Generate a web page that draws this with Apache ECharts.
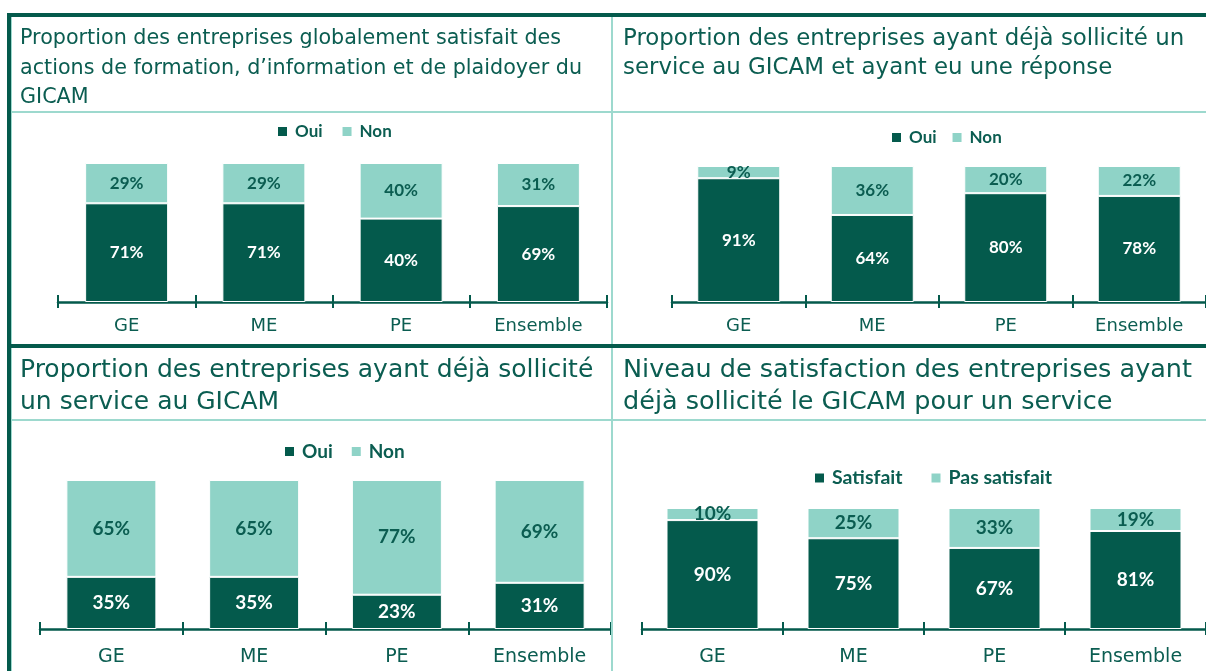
<!DOCTYPE html>
<html>
<head>
<meta charset="utf-8">
<script src="https://cdn.jsdelivr.net/npm/echarts@6/dist/echarts.min.js"></script>
<style>
  html, body { margin: 0; padding: 0; background: #fff; }
  #page { position: relative; width: 1206px; height: 671px; overflow: hidden; }
  .panel { position: absolute; overflow: hidden; }
  .line { position: absolute; }
  .dark { background: #045a4c; }
  .light { background: #9dd9ce; }
</style>
</head>
<body>
<div id="page">
  <div id="p1" class="panel" style="left:13px;top:17px;width:598px;height:327px"></div>
  <div id="p2" class="panel" style="left:613px;top:17px;width:593px;height:327px"></div>
  <div id="p3" class="panel" style="left:13px;top:348px;width:598px;height:323px"></div>
  <div id="p4" class="panel" style="left:613px;top:348px;width:593px;height:323px"></div>

  <!-- cadre -->
  <div class="line light" style="left:11px;top:111px;width:1195px;height:2px"></div>
  <div class="line light" style="left:11px;top:419px;width:1195px;height:2px"></div>
  <div class="line light" style="left:611px;top:17px;width:2px;height:654px"></div>
  <div class="line light" style="left:11px;top:17px;width:1px;height:654px"></div>
  <div class="line dark" style="left:7px;top:13px;width:1199px;height:4px"></div>
  <div class="line dark" style="left:7px;top:344px;width:1199px;height:4px"></div>
  <div class="line dark" style="left:7px;top:13px;width:4px;height:658px"></div>
</div>

<script>
const categories = ['GE', 'ME', 'PE', 'Ensemble']

// panneau 1 : satisfaction formation / information / plaidoyer
// (la barre PE fait ~60 % en hauteur mais l'etiquette affiche 40 %)
const p1Oui = [71, 71, 60, 69]
const p1OuiText = ['71%', '71%', '40%', '69%']
const p1Non = [29, 29, 40, 31]

// panneau 2 : service sollicite et reponse obtenue
const p2Oui = [91, 64, 80, 78]
const p2Non = [9, 36, 20, 22]

// panneau 3 : service deja sollicite
const p3Oui = [35, 35, 23, 31]
const p3Non = [65, 65, 77, 69]

// panneau 4 : niveau de satisfaction
const p4Sat = [90, 75, 67, 81]
const p4Pas = [10, 25, 33, 19]

const DARK = '#045a4c'
const LIGHT = '#8fd3c7'
const TEXT = '#0b5d51'
const FONT = '"DejaVu Sans", sans-serif'
const BOLD = 'Lato, "Open Sans", sans-serif'

function pct(v) {
  return v + '%'
}

function buildOption(cfg) {
  const axisBase = {
    type: 'category',
    data: categories,
    gridIndex: 0,
    position: 'bottom',
    boundaryGap: true
  }
  return {
    animation: false,
    textStyle: { fontFamily: FONT },
    title: {
      text: cfg.title,
      left: cfg.titleLeft,
      top: cfg.titleTop,
      padding: 0,
      textStyle: {
        color: TEXT,
        fontFamily: FONT,
        fontWeight: 'normal',
        fontSize: cfg.titleSize,
        lineHeight: cfg.titleLine
      }
    },
    legend: {
      data: cfg.names,
      left: cfg.legendLeft,
      top: cfg.legendTop,
      icon: 'rect',
      itemWidth: 11,
      itemHeight: 11,
      itemGap: cfg.legendGap,
      selectedMode: false,
      textStyle: {
        color: TEXT,
        fontFamily: BOLD,
        fontWeight: 'bold',
        fontSize: cfg.legendSize,
        padding: [0, 0, 0, 2]
      }
    },
    grid: {
      left: cfg.grid[0],
      top: cfg.grid[1],
      width: cfg.grid[2],
      height: cfg.grid[3]
    },
    xAxis: [
      Object.assign({}, axisBase, {
        axisLine: { lineStyle: { color: DARK, width: 2.5 } },
        axisTick: { show: true, inside: false, length: 6, lineStyle: { color: DARK, width: 2 } },
        axisLabel: {
          color: TEXT,
          fontFamily: FONT,
          fontSize: cfg.catSize,
          margin: cfg.catMargin
        }
      }),
      // second axe, uniquement pour que les graduations traversent la ligne
      Object.assign({}, axisBase, {
        axisLine: { show: false },
        axisTick: { show: true, inside: true, length: 7, lineStyle: { color: DARK, width: 2 } },
        axisLabel: { show: false }
      })
    ],
    yAxis: {
      type: 'value',
      min: 0,
      max: 100,
      show: false
    },
    series: [
      {
        name: cfg.names[0],
        type: 'bar',
        stack: 'total',
        barWidth: cfg.barWidth,
        data: cfg.low,
        itemStyle: { color: DARK, borderColor: '#fff', borderWidth: 1 },
        label: {
          show: true,
          position: 'inside',
          color: '#fff',
          fontFamily: BOLD,
          fontWeight: 'bold',
          fontSize: cfg.valSize,
          formatter: p => (cfg.lowText ? cfg.lowText[p.dataIndex] : pct(p.value))
        }
      },
      {
        name: cfg.names[1],
        type: 'bar',
        stack: 'total',
        barWidth: cfg.barWidth,
        data: cfg.high,
        itemStyle: { color: LIGHT, borderColor: '#fff', borderWidth: 1 },
        label: {
          show: true,
          position: 'inside',
          color: TEXT,
          fontFamily: BOLD,
          fontWeight: 'bold',
          fontSize: cfg.valSize,
          formatter: p => pct(p.value)
        }
      }
    ]
  }
}

const panels = [
  {
    el: 'p1',
    title: 'Proportion des entreprises globalement satisfait des\nactions de formation, d\u2019information et de plaidoyer du\nGICAM',
    titleLeft: 7, titleTop: 7, titleSize: 20.7, titleLine: 29.5,
    names: ['Oui', 'Non'], legendLeft: 258, legendTop: 101, legendSize: 17, legendGap: 18,
    grid: [45, 146, 549, 139], barWidth: 83,
    catSize: 18, catMargin: 15, valSize: 17,
    low: p1Oui, lowText: p1OuiText, high: p1Non
  },
  {
    el: 'p2',
    title: 'Proportion des entreprises ayant d\u00e9j\u00e0 sollicit\u00e9 un\nservice au GICAM et ayant eu une r\u00e9ponse',
    titleLeft: 10, titleTop: 7, titleSize: 22.9, titleLine: 29.5,
    names: ['Oui', 'Non'], legendLeft: 272, legendTop: 107, legendSize: 17, legendGap: 14,
    grid: [59, 149, 536, 136], barWidth: 83,
    catSize: 18, catMargin: 15, valSize: 17,
    low: p2Oui, high: p2Non
  },
  {
    el: 'p3',
    title: 'Proportion des entreprises ayant d\u00e9j\u00e0 sollicit\u00e9\nun service au GICAM',
    titleLeft: 7, titleTop: 6, titleSize: 25, titleLine: 32,
    names: ['Oui', 'Non'], legendLeft: 265, legendTop: 89, legendSize: 19, legendGap: 17,
    grid: [27, 132, 585, 149], barWidth: 90,
    catSize: 19, catMargin: 19, valSize: 19,
    low: p3Oui, high: p3Non
  },
  {
    el: 'p4',
    title: 'Niveau de satisfaction des entreprises ayant\nd\u00e9j\u00e0 sollicit\u00e9 le GICAM pour un service',
    titleLeft: 10, titleTop: 6, titleSize: 25.5, titleLine: 32,
    names: ['Satisfait', 'Pas satisfait'], legendLeft: 195, legendTop: 115, legendSize: 19.5, legendGap: 27,
    grid: [29, 160, 596, 121], barWidth: 92,
    catSize: 19, catMargin: 19, valSize: 19,
    low: p4Sat, high: p4Pas
  }
]

panels.forEach(cfg => {
  const chart = echarts.init(document.getElementById(cfg.el), null, { renderer: 'canvas' })
  chart.setOption(buildOption(cfg))
})
</script>
</body>
</html>
